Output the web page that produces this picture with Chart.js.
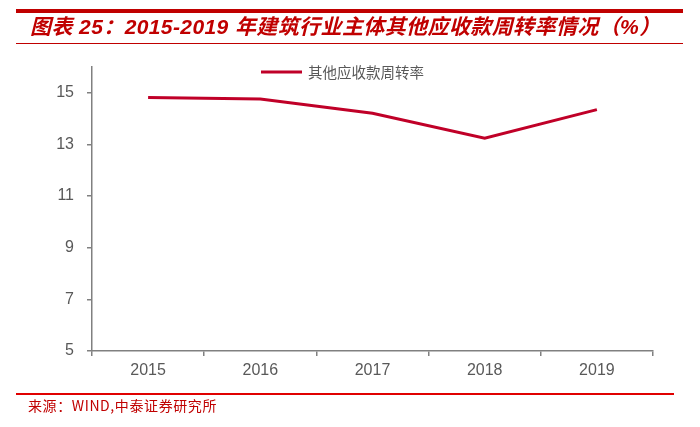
<!DOCTYPE html>
<html>
<head>
<meta charset="utf-8">
<script src="https://cdn.jsdelivr.net/npm/chart.js@4.4.0/dist/chart.umd.min.js"></script>
<style>
  html, body { margin: 0; padding: 0; background: #fff; }
  #wrap { position: relative; width: 700px; height: 427px; overflow: hidden; }
  #c { position: absolute; left: 0; top: 0; }
  .bar-thick { position: absolute; left: 16px; top: 9px; width: 667px; height: 4px; background: #C00000; }
  .bar-thin { position: absolute; left: 16px; top: 43px; width: 667px; height: 1px; background: #C00000; }
  .bar-bottom { position: absolute; left: 16px; top: 393px; width: 658px; height: 2px; background: #E00000; }
  #title { position: absolute; left: 30px; top: 11px; font-family: "Liberation Sans Narrow", "Liberation Sans", "Noto Sans CJK SC", sans-serif;
    font-weight: bold; font-style: italic; font-size: 21px; letter-spacing: 0.4px; color: #C00000; white-space: nowrap; line-height: 28px; }
  #title .cjk { font-family: "Noto Sans CJK SC", sans-serif; }
  #source { position: absolute; left: 28px; top: 396px; font-family: "Noto Sans CJK SC", sans-serif; font-size: 14px; letter-spacing: 0.6px; color: #C00000; white-space: nowrap; line-height: 18px; }
</style>
</head>
<body>
<div id="wrap">
  <canvas id="c" width="700" height="427"></canvas>
  <div class="bar-thick"></div>
  <div id="title"><span class="cjk">图表</span> 25<span class="cjk">：</span>2015-2019 <span class="cjk">年建筑行业主体其他应收款周转率情况（</span>%<span class="cjk">）</span></div>
  <div class="bar-thin"></div>
  <div class="bar-bottom"></div>
  <div id="source">来源：WIND,中泰证券研究所</div>
</div>
<script>
const categories = ["2015", "2016", "2017", "2018", "2019"];
const seriesName = "其他应收款周转率";
const seriesValues = [14.82, 14.76, 14.21, 13.24, 14.35];
const yTickValues = [5, 7, 9, 11, 13, 15];

const lineColor = "#C00028";
const axisColor = "#808080";
const labelColor = "#595959";

const legendPlugin = {
  id: "customLegend",
  afterDraw(chart) {
    const ctx = chart.ctx;
    const ds = chart.data.datasets[0];
    ctx.save();
    ctx.strokeStyle = ds.borderColor;
    ctx.lineWidth = 3;
    ctx.beginPath();
    ctx.moveTo(261, 72);
    ctx.lineTo(302, 72);
    ctx.stroke();
    ctx.fillStyle = labelColor;
    ctx.font = '14.5px "Noto Sans CJK SC", sans-serif';
    ctx.textBaseline = "middle";
    ctx.textAlign = "left";
    ctx.fillText(ds.label, 308, 72);
    ctx.restore();
  }
};

new Chart(document.getElementById("c"), {
  type: "line",
  data: {
    labels: categories,
    datasets: [{
      label: seriesName,
      data: seriesValues,
      borderColor: lineColor,
      backgroundColor: lineColor,
      borderWidth: 3,
      pointRadius: 0,
      tension: 0,
      fill: false
    }]
  },
  options: {
    responsive: false,
    animation: false,
    layout: { padding: { top: 67, right: 47, bottom: 42, left: 0 } },
    plugins: { legend: { display: false }, tooltip: { enabled: false } },
    scales: {
      x: {
        offset: true,
        grid: { offset: true, drawOnChartArea: false, drawTicks: true, tickLength: 5, color: axisColor, lineWidth: 1.5 },
        border: { display: true, color: axisColor, width: 1.5 },
        ticks: { color: labelColor, font: { family: '"Liberation Sans", Arial, sans-serif', size: 16 }, padding: 5 },
        afterFit(axis) { axis.height = 34; }
      },
      y: {
        min: 5,
        max: 16,
        afterBuildTicks(axis) { axis.ticks = yTickValues.map(v => ({ value: v })); },
        grid: { drawOnChartArea: false, drawTicks: true, tickLength: 5, color: axisColor, lineWidth: 1.5 },
        border: { display: true, color: axisColor, width: 1.5 },
        ticks: { color: labelColor, font: { family: '"Liberation Sans", Arial, sans-serif', size: 16 }, padding: 13 },
        afterFit(axis) { axis.width = 92; }
      }
    }
  },
  plugins: [legendPlugin]
});
</script>
</body>
</html>
